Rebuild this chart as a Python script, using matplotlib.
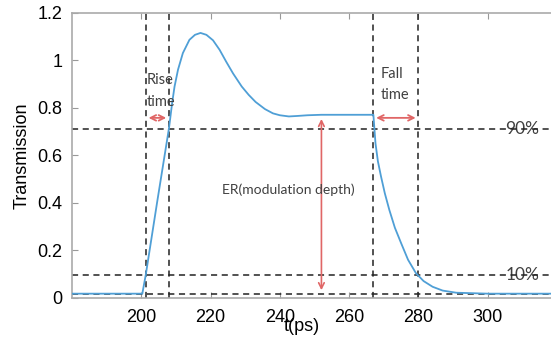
import matplotlib.pyplot as plt

# Curva de transmisión (t en ps)
t = [180, 200.3, 201.3, 204.6, 208, 208.9, 209.6, 210.6, 212, 213.9,
     215.5, 217.1, 218.8, 220.7, 222.6, 224.5, 226.5, 229, 231, 233,
     235.7, 238, 240, 242.6, 245, 248, 252, 260, 267,
     267.6, 268.3, 269.2, 270.3, 271.6, 273.2, 275, 277, 279.3, 281.5,
     284.1, 287, 290.9, 300, 320]
trans = [0.017, 0.017, 0.097, 0.405, 0.715, 0.82, 0.89, 0.961, 1.031, 1.087,
         1.108, 1.116, 1.108, 1.085, 1.045, 0.995, 0.945, 0.89, 0.855, 0.825,
         0.795, 0.777, 0.769, 0.764, 0.766, 0.769, 0.771, 0.771, 0.771,
         0.651, 0.575, 0.511, 0.44, 0.37, 0.295, 0.23, 0.16, 0.103, 0.07,
         0.046, 0.03, 0.021, 0.017, 0.017]

# Niveles y tiempos de las líneas de referencia
niveles = [0.712, 0.097, 0.017]
tiempos = [201.3, 208, 267, 280]

xticks = [200, 220, 240, 260, 280, 300]
yticks = [0, 0.2, 0.4, 0.6, 0.8, 1.0, 1.2]
ytick_labels = ['0', '0.2', '0.4', '0.6', '0.8', '1', '1.2']

rojo = '#e06666'
gris = '#404040'

fig = plt.figure(figsize=(5.51, 3.46), dpi=100)
ax = fig.add_axes([72 / 551, 1 - 297.7 / 346, (557 - 72) / 551, (297.7 - 13) / 346])

ax.plot(t, trans, color='#4f9fd6', lw=1.3, zorder=3)

# Líneas discontinuas
for y in niveles:
    ax.axhline(y, color='#222222', ls=(0, (4, 3)), lw=1.1, zorder=2)
for x in tiempos:
    ax.axvline(x, color='#222222', ls=(0, (4, 3)), lw=1.1, zorder=2)

# Flechas
ax.annotate('', xy=(tiempos[0], 0.758), xytext=(tiempos[1], 0.758),
            arrowprops=dict(arrowstyle='<->', color=rojo, lw=1.3))
ax.annotate('', xy=(tiempos[2], 0.758), xytext=(tiempos[3], 0.758),
            arrowprops=dict(arrowstyle='<->', color=rojo, lw=1.3))
ax.annotate('', xy=(252, 0.765), xytext=(252, 0.02),
            arrowprops=dict(arrowstyle='<->', color=rojo, lw=1.2))

# Textos
fuente = 'Lato'
ax.text(201.5, 0.918, 'Rise', ha='left', va='center', fontsize=10.5, color=gris, family=fuente)
ax.text(201.5, 0.826, 'time', ha='left', va='center', fontsize=10.5, color=gris, family=fuente)
ax.text(269.2, 0.944, 'Fall', ha='left', va='center', fontsize=10.5, color=gris, family=fuente)
ax.text(269.2, 0.855, 'time', ha='left', va='center', fontsize=10.5, color=gris, family=fuente)
ax.text(242.5, 0.455, 'ER(modulation depth)', ha='center', va='center', fontsize=10,
        color=gris, family=fuente)
ax.text(310, niveles[0], '90%', ha='center', va='center', fontsize=12.5, color=gris, family=fuente, zorder=1)
ax.text(310, niveles[1], '10%', ha='center', va='center', fontsize=12.5, color=gris, family=fuente, zorder=1)

ax.set_xlim(180, 320)
ax.set_ylim(0, 1.2)
ax.set_xticks(xticks)
ax.set_yticks(yticks)
ax.set_yticklabels(ytick_labels)
ax.tick_params(direction='in', top=True, right=True, length=4, color='#999999',
               labelsize=13, labelfontfamily='Liberation Sans', pad=7)
ax.tick_params(axis='x', pad=8)
for s in ax.spines.values():
    s.set_color('#aaaaaa')
    s.set_linewidth(1.2)

ax.set_ylabel('Transmission', fontsize=13, family='Liberation Sans')
ax.yaxis.set_label_coords(-0.085, 0.5)
ax.set_xlabel('t(ps)', fontsize=13, family='Liberation Sans')
ax.xaxis.set_label_coords(0.474, -0.072)

fig.savefig('out.png', dpi=100)
